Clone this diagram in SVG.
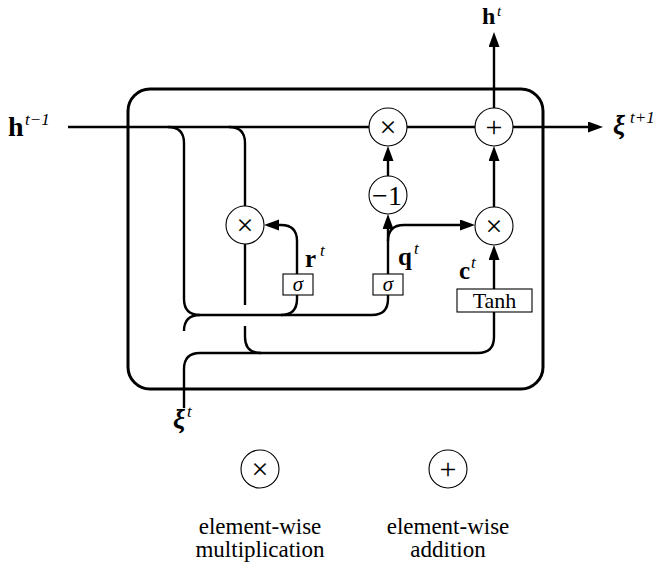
<svg xmlns="http://www.w3.org/2000/svg" width="659" height="568" viewBox="0 0 659 568">
<style>
.w{fill:none;stroke:#000;stroke-width:2.4}
.op{fill:#fff;stroke:#000;stroke-width:1.1}
.bx{fill:#fff;stroke:#000;stroke-width:1.1}
.sym{font-family:"Liberation Serif",serif;font-size:30px;text-anchor:middle;fill:#000}
.b{font-family:"Liberation Serif",serif;font-weight:bold;font-size:28px;fill:#000}
.bi{font-family:"Liberation Serif",serif;font-weight:bold;font-style:italic;font-size:27px;fill:#000}
.sup{font-family:"Liberation Serif",serif;font-style:italic;font-size:17px;fill:#000}
.lg{font-family:"Liberation Serif",serif;font-size:23px;text-anchor:middle;fill:#000}
</style>
<defs>
<marker id="ah" markerUnits="userSpaceOnUse" markerWidth="16" markerHeight="12" refX="7" refY="5.5" orient="auto">
<path d="M0,0 L15,5.5 L0,11 z" fill="#000"/>
</marker>
</defs>
<rect x="128" y="89" width="415" height="300" rx="22" fill="none" stroke="#000" stroke-width="3"/>
<g id="connectors">
<path class="w" d="M68,127 H595" marker-end="url(#ah)"/>
<path class="w" d="M494,108 V40" marker-end="url(#ah)"/>
<path class="w" d="M168,127 Q184,127 184,143 V299 Q184,315 200,315 H372 Q388,315 388,299 V295"/>
<path class="w" d="M281,315 Q297,315 297,299 V295"/>
<path class="w" d="M184,408 V369 Q184,353 200,353 H478 Q494,353 494,337 V312"/>
<path class="w" d="M184,331 Q184,315 200,315"/>
<path class="w" d="M229,127 Q245,127 245,143 V207"/>
<path class="w" d="M245,244 V305"/>
<path class="w" d="M245,326 V337 Q245,353 261,353"/>
<path class="w" d="M297,274 V241 Q297,225 281,225 H272" marker-end="url(#ah)"/>
<path class="w" d="M388,274 V222" marker-end="url(#ah)"/>
<path class="w" d="M388,241 Q388,225 404,225 H467" marker-end="url(#ah)"/>
<path class="w" d="M388,176 V154" marker-end="url(#ah)"/>
<path class="w" d="M494,207 V154" marker-end="url(#ah)"/>
<path class="w" d="M494,289 V253" marker-end="url(#ah)"/>
</g>
<g id="mul-reset"><circle class="op" cx="245" cy="225" r="19"/><text class="sym" x="245" y="235">×</text></g>
<g id="mul-top"><circle class="op" cx="388" cy="127" r="19"/><text class="sym" x="388" y="137">×</text></g>
<g id="minus-one"><circle class="op" cx="388" cy="195" r="19"/><text class="sym" x="387" y="205" style="font-size:28px">−1</text></g>
<g id="add-top"><circle class="op" cx="494" cy="127" r="19"/><text class="sym" x="494" y="137">+</text></g>
<g id="mul-c"><circle class="op" cx="494" cy="226" r="19"/><text class="sym" x="494" y="236">×</text></g>
<g id="sigma-r"><rect class="bx" x="283" y="274" width="30" height="21"/><text class="sym" x="298" y="291" style="font-style:italic;font-size:21px">σ</text></g>
<g id="sigma-q"><rect class="bx" x="373" y="274" width="30" height="21"/><text class="sym" x="388" y="291" style="font-style:italic;font-size:21px">σ</text></g>
<g id="tanh"><rect class="bx" x="457" y="289" width="75" height="23"/><text class="sym" x="494.5" y="308" style="font-size:22px">Tanh</text></g>
<g id="labels">
<text class="b" x="8" y="136">h</text><text class="sup" x="25" y="125">t−1</text>
<text class="b" x="482" y="24" style="font-size:24px">h</text><text class="sup" x="497" y="16" style="font-size:15px">t</text>
<text class="bi" x="613" y="134">ξ</text><text class="sup" x="630" y="123">t+1</text>
<text class="bi" x="173" y="428">ξ</text><text class="sup" x="187" y="417">t</text>
<text class="b" x="305" y="267" style="font-size:25px">r</text><text class="sup" x="320" y="256">t</text>
<text class="b" x="398" y="265" style="font-size:25px">q</text><text class="sup" x="414" y="254">t</text>
<text class="b" x="459" y="279" style="font-size:25px">c</text><text class="sup" x="471" y="268">t</text>
</g>
<g id="legend-mul"><circle class="op" cx="260" cy="469" r="19"/><text class="sym" x="260" y="479">×</text>
<text class="lg" x="260" y="534">element-wise</text><text class="lg" x="260" y="557">multiplication</text></g>
<g id="legend-add"><circle class="op" cx="448" cy="469" r="19"/><text class="sym" x="448" y="479">+</text>
<text class="lg" x="448" y="534">element-wise</text><text class="lg" x="448" y="557">addition</text></g>
</svg>
